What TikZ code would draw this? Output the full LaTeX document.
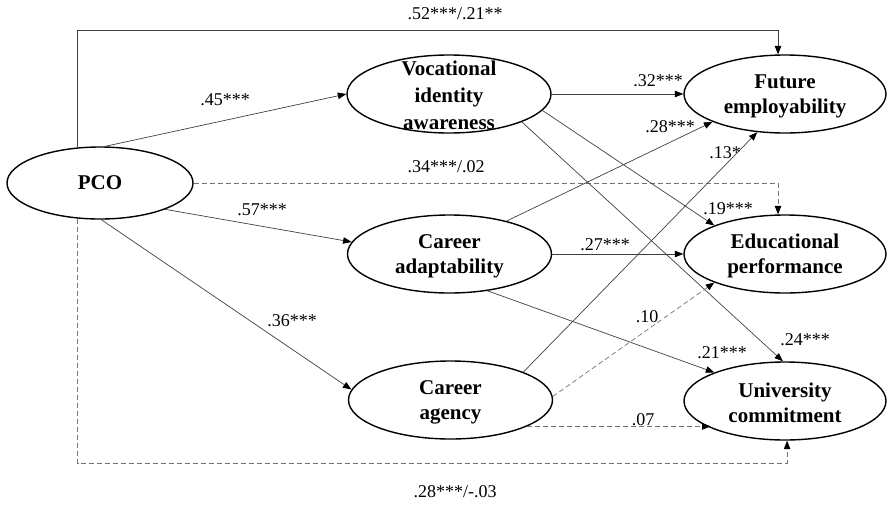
\documentclass[tikz,border=0pt]{standalone}
\usepackage{fontspec}
\setmainfont{Liberation Serif}
\usetikzlibrary{arrows.meta,shapes.geometric}
\begin{document}
\begin{tikzpicture}[x=1pt,y=-1pt,
  latent/.style={draw=black,line width=1.4pt,ellipse,inner sep=0pt,minimum width=#1,minimum height=78pt},
  latent/.default=204pt,
  ltext/.style={font=\fontsize{21}{25}\selectfont\bfseries,align=center,inner sep=0pt},
  arr/.style={draw=black!75,line width=0.7pt,-{Triangle[length=8.5pt,width=6.5pt,color=black]}},
  narr/.style={arr,dash pattern=on 5pt off 3pt,draw=black!55},
  coef/.style={font=\fontsize{18}{20}\selectfont,inner sep=0pt}]
\useasboundingbox (0,0) rectangle (887,504);
% latent variables
\node[latent=186pt,minimum height=72pt] (pco) at (100,183) {};
\node[latent] (voc) at (449,94) {};
\node[latent=202pt] (fut) at (785,94) {};
\node[latent] (ada) at (449.5,254) {};
\node[latent=202pt] (edu) at (785,254) {};
\node[latent] (age) at (450.5,400) {};
\node[latent=202pt] (uni) at (785,401) {};
% texts
\node[ltext] (pcot) at (pco.center) {PCO};
\node[ltext,font=\fontsize{21}{27}\selectfont\bfseries] (voct) at ([yshift=-1pt]voc.center) {Vocational\\identity\\awareness};
\node[ltext] (futt) at ([yshift=-2pt]fut.center) {Future\\employability};
\node[ltext] (adat) at ([yshift=-2pt]ada.center) {Career\\adaptability};
\node[ltext] (edut) at ([yshift=-2pt]edu.center) {Educational\\performance};
\node[ltext] (aget) at ([yshift=-2pt]age.center) {Career\\agency};
\node[ltext] (unit) at ([yshift=-2pt]uni.center) {University\\commitment};
% paths from PCO
\draw[arr] (pco.82) -- (voc.180);
\draw[arr] (pco.-22) -- (ada.173);
\draw[arr] (pco.-88) -- (age.174);
\coordinate (ctop) at (77,30);
\draw[arr] (pco.122) -- (pco.122 |- ctop) -| (fut.100);
\draw[narr] (pco.east) -| (edu.100);
\coordinate (cbot) at (77,463);
\draw[narr] (pco.238) -- (pco.238 |- cbot) -| (uni.273);
% mediator paths
\draw[arr] (voc.east) -- (fut.west);
\draw[arr] (voc.-10) -- (edu.158);
\draw[arr] (voc.-21) -- (uni.93);
\draw[arr] (ada.30) -- (fut.201);
\draw[arr] (ada.east) -- (edu.west);
\draw[arr] (ada.-44) -- (uni.158);
\draw[arr] (age.21) -- (fut.234);
\draw[narr] (age.2) -- (edu.202);
\draw[narr] (age.-19) -- (age.-19 -| uni.200);
% coefficients
\node[coef] (l1) at (455,14) {.52***/.21**};
\node[coef] (l2) at (225,100) {.45***};
\node[coef] (l3) at (446,167) {.34***/.02};
\node[coef] (l4) at (262,210) {.57***};
\node[coef] (l5) at (292,321) {.36***};
\node[coef] (l6) at (455,492) {.28***/-.03};
\node[coef] (l7) at (658,81) {.32***};
\node[coef] (l8) at (670,127) {.28***};
\node[coef] (l9) at (725,153) {.13*};
\node[coef] (l10) at (728,209) {.19***};
\node[coef] (l11) at (605,245) {.27***};
\node[coef] (l12) at (805,340) {.24***};
\node[coef] (l13) at (722,353) {.21***};
\node[coef] (l14) at (647,317) {.10};
\node[coef] (l15) at (643,420) {.07};
\end{tikzpicture}
\end{document}
